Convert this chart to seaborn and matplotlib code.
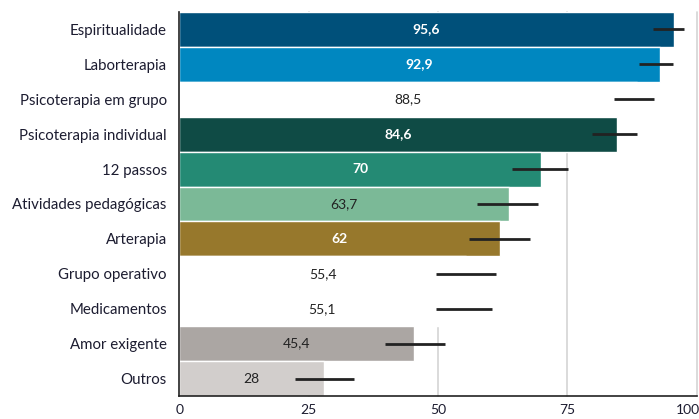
import numpy as np
import pandas as pd
import matplotlib
matplotlib.use('Agg')
import matplotlib.pyplot as plt
import matplotlib.transforms as mtransforms
import seaborn as sns

# dados
categorias = ['Espiritualidade', 'Laborterapia', 'Psicoterapia em grupo',
              'Psicoterapia individual', '12 passos', 'Atividades pedagógicas',
              'Arterapia', 'Grupo operativo', 'Medicamentos', 'Amor exigente', 'Outros']
valores = [95.6, 92.9, 88.5, 84.6, 70, 63.7, 62, 55.4, 55.1, 45.4, 28]
ic_inf = [91.5, 88.8, 84.0, 79.8, 64.3, 57.6, 56.0, 49.6, 49.6, 39.7, 22.4]
ic_sup = [97.6, 95.5, 91.8, 88.5, 75.2, 69.3, 67.8, 61.3, 60.5, 51.4, 33.8]
cores = ['#00507a', '#0087c0', '#ffffff', '#0f4b45', '#248a74', '#7bb997',
         '#97782c', '#ffffff', '#ffffff', '#aba6a3', '#d2cecc']
rotulo_claro = [True, True, False, True, True, False, True, False, False, False, False]
xticks = [0, 25, 50, 75, 100]

sns.set_style('white')
plt.rcParams['font.family'] = ['Lato', 'DejaVu Sans']

df = pd.DataFrame({'categoria': categorias, 'valor': valores})

fig = plt.figure(figsize=(6.99, 4.19), dpi=100)
ax = fig.add_axes([0.2565, 0.0549, 0.7402, 0.9165])

# grade vertical atrás das barras
for xv in xticks[1:]:
    ax.axvline(xv, color='#d4d4d4', linewidth=1.2, zorder=0, clip_on=False)

sns.barplot(data=df, x='valor', y='categoria', hue='categoria', palette=cores,
            legend=False, width=1.0, edgecolor='white', linewidth=1.0,
            saturation=1, ax=ax, zorder=2)

# intervalos de confiança (assimétricos)
v = np.array(valores)
xerr = np.array([v - np.array(ic_inf), np.array(ic_sup) - v])
ax.errorbar(v, np.arange(len(categorias)), xerr=xerr, fmt='none',
            ecolor='#222222', elinewidth=2.0, capsize=0, zorder=3)

# rótulos dos valores no centro da barra
for i, (val, claro) in enumerate(zip(valores, rotulo_claro)):
    txt = str(int(val)) if float(val).is_integer() else f'{val}'.replace('.', ',')
    ax.text(val / 2, i, txt, ha='center', va='center', fontsize=10,
            color='white' if claro else '#222222',
            fontweight='bold' if claro else 'normal', zorder=4)

ax.set_xlim(0, 100)
ax.set_ylim(len(categorias) - 0.5, -0.5)
ax.set_xlabel('')
ax.set_ylabel('')

ax.set_xticks(xticks)
ax.set_xticklabels([str(t) for t in xticks], fontsize=10, color='#1c1c30')
ax.tick_params(axis='x', direction='inout', length=8, width=1.2, color='#222222', pad=2)
# o "100" fica na borda da figura: encosta à direita
ult = ax.get_xticklabels()[-1]
ult.set_transform(ult.get_transform() + mtransforms.ScaledTranslation(-6 / 72, 0, fig.dpi_scale_trans))

# marcas nos limites das categorias, rótulos no centro
ax.set_yticks(np.arange(-0.5, len(categorias)), minor=False)
ax.set_yticklabels([])
ax.tick_params(axis='y', which='major', direction='out', length=12, width=1.2, color='#333333')
ax.set_yticks(np.arange(len(categorias)), minor=True)
ax.set_yticklabels(categorias, minor=True, fontsize=10.8, color='#1c1c30')
ax.tick_params(axis='y', which='minor', length=0, pad=9)

for lado in ['top', 'right']:
    ax.spines[lado].set_visible(False)
for lado in ['left', 'bottom']:
    ax.spines[lado].set_color('#222222')
    ax.spines[lado].set_linewidth(1.2)

fig.savefig('out.png', dpi=100)
